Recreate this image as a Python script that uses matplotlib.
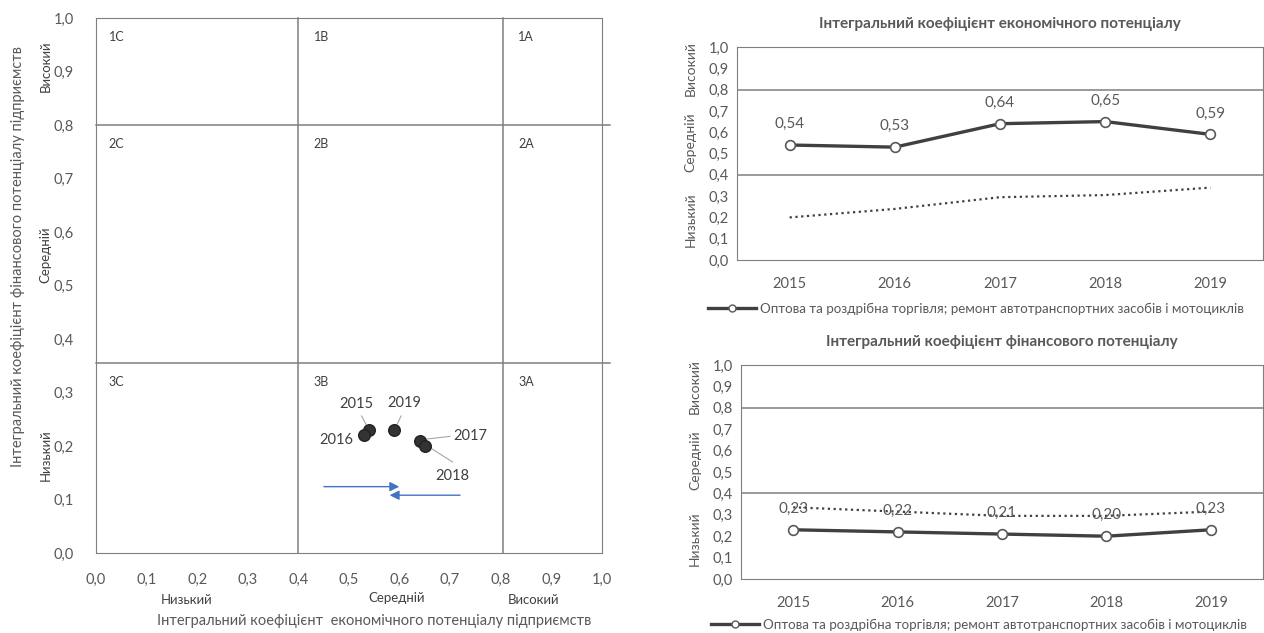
import matplotlib.pyplot as plt
from matplotlib.lines import Line2D

plt.rcParams['font.family'] = ['Lato', 'DejaVu Sans']

# data
years = ['2015', '2016', '2017', '2018', '2019']
econ = [0.54, 0.53, 0.64, 0.65, 0.59]
fin = [0.23, 0.22, 0.21, 0.20, 0.23]
econ_trend = [0.20, 0.24, 0.295, 0.305, 0.34]
fin_trend = [0.335, 0.315, 0.295, 0.295, 0.315]
zones = ['Низький', 'Середній', 'Високий']
ticks = [0.0, 0.1, 0.2, 0.3, 0.4, 0.5, 0.6, 0.7, 0.8, 0.9, 1.0]
series_name = 'Оптова та роздрібна торгівля; ремонт автотранспортних засобів і мотоциклів'

TXT = '#595959'
GRID = '#7f7f7f'
LINE = '#404040'


def fmt(v, nd=1):
    return f'{v:.{nd}f}'.replace('.', ',')


fig = plt.figure(figsize=(12.64, 6.33), dpi=100)

# ---------- left: matrix ----------
ax = fig.add_axes([0.0759, 0.1264, 0.4003, 0.8452])
ax.set_xlim(0, 1)
ax.set_ylim(0, 1)
for s in ax.spines.values():
    s.set_color(GRID)
ax.set_xticks(ticks)
ax.set_yticks(ticks)
ax.set_xticklabels([fmt(t) for t in ticks], color=TXT, fontsize=10.5)
ax.set_yticklabels([fmt(t) for t in ticks], color=TXT, fontsize=10.5)
ax.tick_params(length=0, pad=14)
ax.tick_params(axis='y', pad=16)

ax.plot([0.4, 0.4], [0, 1], color=GRID, lw=1.1, clip_on=False)
ax.plot([0.805, 0.805], [0, 1], color=GRID, lw=1.1, clip_on=False)
ax.plot([0, 1.015], [0.8, 0.8], color=GRID, lw=1.1, clip_on=False)
ax.plot([0, 1.015], [0.355, 0.355], color=GRID, lw=1.1, clip_on=False)

cells = [('1C', 0.025, 0.965), ('1B', 0.43, 0.965), ('1A', 0.835, 0.965),
         ('2C', 0.025, 0.765), ('2B', 0.43, 0.765), ('2A', 0.835, 0.765),
         ('3C', 0.025, 0.32), ('3B', 0.43, 0.32), ('3A', 0.835, 0.32)]
for t, x, y in cells:
    ax.text(x, y, t, fontsize=9, color='#404040', ha='left', va='center')

ax.scatter(econ, fin, s=70, color='#333333', edgecolor='#222222', zorder=5)
offs = {'2015': (0.515, 0.278), '2016': (0.475, 0.212),
        '2019': (0.61, 0.28), '2017': (0.74, 0.218),
        '2018': (0.705, 0.143)}
for yr in years:
    tx, ty = offs[yr]
    ax.text(tx, ty, yr, fontsize=10.5, color='#404040', ha='center', va='center')
ax.plot([0.525, 0.537], [0.256, 0.235], color='#a6a6a6', lw=0.8)
ax.plot([0.603, 0.593], [0.256, 0.236], color='#a6a6a6', lw=0.8)
ax.plot([0.70, 0.645], [0.218, 0.212], color='#a6a6a6', lw=0.8)
ax.plot([0.705, 0.655], [0.17, 0.2], color='#a6a6a6', lw=0.8)

ax.annotate('', xy=(0.605, 0.124), xytext=(0.445, 0.124),
            arrowprops=dict(arrowstyle='-|>', color='#4472c4', lw=1.0,
                            mutation_scale=14))
ax.annotate('', xy=(0.575, 0.108), xytext=(0.725, 0.108),
            arrowprops=dict(arrowstyle='-|>', color='#4472c4', lw=1.0,
                            mutation_scale=14))

for lab, yy in [(zones[2], 0.91), (zones[1], 0.557), (zones[0], 0.183)]:
    ax.text(-0.1, yy, lab, rotation=90, fontsize=9.5, color='#404040',
            ha='center', va='center', transform=ax.transAxes)
ax.text(-0.155, 0.555, 'Інтегральний коефіцієнт фінансового потенціалу підприємств',
        rotation=90, fontsize=10.5, color=TXT, ha='center', va='center',
        transform=ax.transAxes)

ax.text(0.18, -0.088, zones[0], fontsize=9.5, color='#404040', ha='center',
        va='center', transform=ax.transAxes)
ax.text(0.595, -0.084, zones[1], fontsize=9.5, color='#404040', ha='center',
        va='center', transform=ax.transAxes)
ax.text(0.865, -0.088, zones[2], fontsize=9.5, color='#404040', ha='center',
        va='center', transform=ax.transAxes)
ax.text(0.55, -0.128, 'Інтегральний коефіцієнт  економічного потенціалу підприємств',
        fontsize=10.5, color=TXT, ha='center', va='center',
        transform=ax.transAxes)


# ---------- right: line charts ----------
def line_panel(rect, title, vals, trend, leg_y):
    a = fig.add_axes(rect)
    x = list(range(len(years)))
    a.set_xlim(-0.5, len(years) - 0.5)
    a.set_ylim(0, 1)
    for s in a.spines.values():
        s.set_color(GRID)
    a.set_yticks(ticks)
    a.set_yticklabels([fmt(t) for t in ticks], color=TXT, fontsize=10.5)
    a.set_xticks(x)
    a.set_xticklabels(years, color=TXT, fontsize=10.5)
    a.tick_params(length=0)
    a.tick_params(axis='x', pad=12)
    a.tick_params(axis='y', pad=6)
    a.axhline(0.8, color=GRID, lw=1.1)
    a.axhline(0.4, color=GRID, lw=1.1)
    a.plot(x, trend, color='#404040', lw=1.6, ls=(0, (1, 1.6)))
    a.plot(x, vals, color=LINE, lw=2.4, marker='o', ms=7,
           mfc='white', mec='#595959', mew=1.2, zorder=4)
    for xi, v in zip(x, vals):
        a.annotate(fmt(v, 2), (xi, v), xytext=(0, 15), textcoords='offset points',
                   ha='center', va='center', fontsize=11, color=TXT)
    a.set_title(title, fontsize=11, fontweight='bold', color=TXT, pad=14)
    for lab, yy in [(zones[2], 0.9), (zones[1], 0.555), (zones[0], 0.19)]:
        a.text(-0.088, yy, lab, rotation=90, fontsize=10, color=TXT,
               ha='center', va='center', transform=a.transAxes)
    h = Line2D([], [], color=LINE, lw=2.4, marker='o', ms=5, mfc='white',
               mec='#595959')
    a.legend([h], [series_name], loc='upper center', bbox_to_anchor=(0.455, leg_y),
             frameon=False, fontsize=9.6, labelcolor=TXT, handlelength=3.6,
             handletextpad=0.3, borderaxespad=0)
    return a


line_panel([0.5831, 0.5892, 0.4161, 0.3365],
           'Інтегральний коефіцієнт економічного потенціалу', econ, econ_trend,
           -0.175)
line_panel([0.5862, 0.0853, 0.4130, 0.3381],
           'Інтегральний коефіцієнт фінансового потенціалу', fin, fin_trend,
           -0.16)

fig.savefig('out.png', dpi=100)
